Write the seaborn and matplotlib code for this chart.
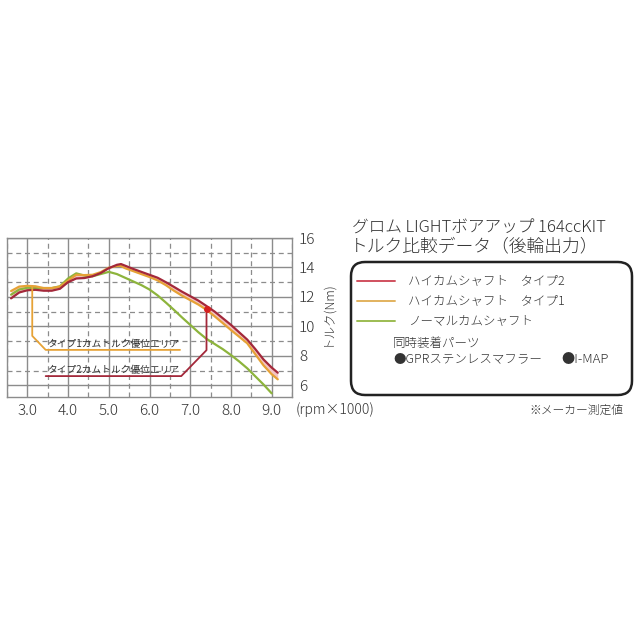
import numpy as np
import pandas as pd
import matplotlib
matplotlib.use("Agg")
import matplotlib.pyplot as plt
from matplotlib.patches import FancyBboxPatch
from matplotlib.lines import Line2D
import seaborn as sns

# ---- data ----
rpm_cam = [2.6, 2.8, 3.0, 3.2, 3.4, 3.6, 3.8, 4.0, 4.2, 4.4, 4.6, 4.8, 5.0, 5.2, 5.3, 5.4,
           5.6, 5.8, 6.0, 6.2, 6.4, 6.6, 6.8, 7.0, 7.2, 7.4, 7.6, 7.8, 8.0, 8.2, 8.4, 8.6,
           8.8, 9.0, 9.15]
torque_type2 = [11.9, 12.3, 12.45, 12.48, 12.42, 12.42, 12.55, 13.0, 13.25, 13.28, 13.4, 13.62,
                13.95, 14.18, 14.23, 14.12, 13.9, 13.7, 13.5, 13.3, 13.0, 12.68, 12.35, 12.05,
                11.75, 11.38, 11.0, 10.55, 10.1, 9.6, 9.1, 8.45, 7.75, 7.2, 6.85]
torque_type1 = [12.4, 12.7, 12.75, 12.72, 12.6, 12.6, 12.7, 13.1, 13.5, 13.48, 13.5, 13.68,
                13.98, 14.1, 14.1, 13.95, 13.75, 13.55, 13.35, 13.12, 12.8, 12.42, 12.08, 11.78,
                11.48, 11.12, 10.68, 10.22, 9.75, 9.3, 8.85, 8.1, 7.35, 6.75, 6.4]
rpm_normal = [2.6, 2.8, 3.0, 3.2, 3.4, 3.6, 3.8, 4.0, 4.2, 4.4, 4.6, 4.8, 5.0, 5.2, 5.4, 5.6,
              5.8, 6.0, 6.2, 6.4, 6.6, 6.8, 7.0, 7.2, 7.4, 7.6, 7.8, 8.0, 8.2, 8.4, 8.6, 8.8, 9.0]
torque_normal = [12.15, 12.5, 12.62, 12.6, 12.6, 12.6, 12.72, 13.25, 13.6, 13.45, 13.4, 13.55,
                 13.7, 13.55, 13.3, 13.05, 12.8, 12.5, 12.1, 11.62, 11.12, 10.6, 10.1, 9.6, 9.15,
                 8.8, 8.45, 8.05, 7.62, 7.15, 6.6, 6.05, 5.45]

series_names = ["ハイカムシャフト　タイプ2", "ハイカムシャフト　タイプ1", "ノーマルカムシャフト"]
x_ticks = [3.0, 4.0, 5.0, 6.0, 7.0, 8.0, 9.0]
y_ticks = [6, 8, 10, 12, 14, 16]
title_lines = ["グロム LIGHTボアアップ 164ccKIT", "トルク比較データ（後輪出力）"]
area_labels = ["タイプ1カムトルク優位エリア", "タイプ2カムトルク優位エリア"]
# annotation bracket paths (rpm, Nm)
bracket1_x = [3.12, 3.12, 3.45, 6.75]
bracket1_y = [12.72, 9.35, 8.4, 8.4]
bracket2_x = [7.4, 7.4, 6.78, 3.45]
bracket2_y = [11.18, 8.38, 6.62, 6.62]

# ---- style ----
sns.set_style("white")
plt.rcParams["font.family"] = ["Noto Sans CJK JP", "DejaVu Sans"]
plt.rcParams["font.weight"] = "light"
txt = "#333333"
gridc = "#8c8c8c"
c_red = "#a3283a"
c_org = "#e6a236"
c_grn = "#8db43c"

df = pd.concat([
    pd.DataFrame({"rpm": rpm_cam, "torque": torque_type2, "s": series_names[0]}),
    pd.DataFrame({"rpm": rpm_cam, "torque": torque_type1, "s": series_names[1]}),
    pd.DataFrame({"rpm": rpm_normal, "torque": torque_normal, "s": series_names[2]}),
])

fig = plt.figure(figsize=(6.4, 6.4), dpi=100)
ax = fig.add_axes([7 / 640, 1 - 397 / 640, 285 / 640, 159 / 640])

ax.fill_between(rpm_cam, torque_type1, torque_type2, color="#f3c4c4", lw=0, zorder=2)
sns.lineplot(data=df, x="rpm", y="torque", hue="s", hue_order=[series_names[2], series_names[1], series_names[0]],
             palette={series_names[0]: c_red, series_names[1]: c_org, series_names[2]: c_grn},
             lw=1.6, legend=False, ax=ax, zorder=3, sort=False)

ax.plot(bracket1_x, bracket1_y, color=c_org, lw=1.3, zorder=4)
ax.plot(bracket2_x, bracket2_y, color=c_red, lw=1.3, zorder=4)
ax.plot([bracket2_x[0]], [bracket2_y[0]], "o", color="#d42020", ms=4, zorder=5)
ax.text(5.1, 8.45, area_labels[0], fontsize=7, fontweight="normal", color=txt, ha="center", va="bottom", zorder=6)
ax.text(5.1, 6.67, area_labels[1], fontsize=7, fontweight="normal", color=txt, ha="center", va="bottom", zorder=6)

ax.set_xlim(2.5, 9.5)
ax.set_ylim(5.2, 16)
ax.set_xticks(x_ticks)
ax.set_xticklabels([f"{v:.1f}" for v in x_ticks])
ax.set_xticks(np.arange(2.5, 9.6, 1.0), minor=True)
ax.yaxis.tick_right()
ax.set_yticks(y_ticks)
ax.set_yticklabels([str(v) for v in y_ticks])
ax.set_yticks([7, 9, 11, 13, 15], minor=True)
ax.grid(which="major", color=gridc, lw=1, ls="-", zorder=0)
ax.grid(which="minor", color=gridc, lw=0.9, ls=(0, (4, 3)), zorder=0)
ax.set_axisbelow(True)
ax.tick_params(which="both", length=0)
ax.tick_params(axis="x", pad=5, labelsize=11, labelcolor=txt)
ax.tick_params(axis="y", pad=5, labelsize=11, labelcolor=txt)
ax.set_xlabel("")
ax.set_ylabel("")
for sp in ax.spines.values():
    sp.set_color(gridc)
    sp.set_linewidth(1)

fig.text(296 / 640, 1 - 410 / 640, "(rpm×1000)", fontsize=10, color=txt, va="center", ha="left")
fig.text(327 / 640, 1 - 313 / 640, "トルク(Nm)", fontsize=9, color=txt, va="center", ha="center", rotation=90)

# right panel
fig.text(352 / 640, 1 - 228 / 640, title_lines[0], fontsize=12, color=txt, va="center", ha="left")
fig.text(350 / 640, 1 - 246 / 640, title_lines[1], fontsize=12.8, color=txt, va="center", ha="left")
box = FancyBboxPatch((351 / 640, 1 - 395 / 640), 281 / 640, 133 / 640,
                     boxstyle="round,pad=0,rounding_size=0.022", transform=fig.transFigure,
                     fc="white", ec="#222222", lw=1.8)
fig.add_artist(box)
leg_cols = ["#d0505e", "#e2b25e", "#9cbc52"]
leg_y = [281, 301, 321]
for col, yy, name in zip(leg_cols, leg_y, series_names):
    fig.add_artist(Line2D([357 / 640, 395 / 640], [1 - yy / 640, 1 - yy / 640], color=col, lw=1.4,
                          transform=fig.transFigure))
    fig.text(408 / 640, 1 - yy / 640, name, fontsize=9, color=txt, va="center", ha="left")
fig.text(393 / 640, 1 - 343 / 640, "同時装着パーツ", fontsize=9, color=txt, va="center", ha="left")
fig.text(393 / 640, 1 - 359 / 640, "●GPRステンレスマフラー", fontsize=9, color=txt, va="center", ha="left")
fig.text(561 / 640, 1 - 359 / 640, "●I-MAP", fontsize=9.5, color=txt, va="center", ha="left")
fig.text(623 / 640, 1 - 410 / 640, "※メーカー測定値", fontsize=8.5, color=txt, va="center", ha="right")

fig.savefig("out.png", dpi=100, facecolor="white")
